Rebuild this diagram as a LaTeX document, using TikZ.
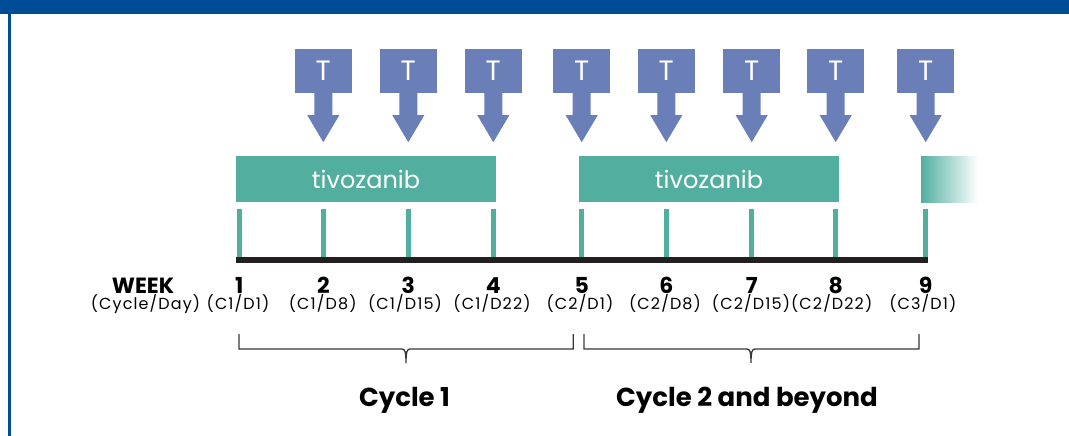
\documentclass[tikz,border=0pt]{standalone}
\usepackage{fontspec}
\setmainfont{Poppins}
\usetikzlibrary{positioning}

\definecolor{hdrblue}{HTML}{004C97}
\definecolor{doseblue}{HTML}{6A7EB8}
\definecolor{drugteal}{HTML}{52AFA0}
\definecolor{axisgray}{HTML}{231F20}

\tikzset{
	tbox/.style = {fill = doseblue, minimum width = 57pt, minimum height = 44pt, inner sep = 0pt, text = white, font = \fontsize{28}{28}\selectfont},
	drugbar/.style = {fill = drugteal, minimum width = 260pt, minimum height = 46pt, inner sep = 0pt, text = white, font = \fontsize{24}{24}\selectfont},
	weeklab/.style = {anchor = base, inner sep = 0pt, font = \bfseries\fontsize{22}{22}\selectfont},
	daylab/.style = {anchor = base, inner sep = 0pt, font = \fontsize{16}{16}\selectfont\addfontfeature{LetterSpace = 7}},
	cyclelab/.style = {anchor = base, inner sep = 0pt, font = \bfseries\fontsize{26}{26}\selectfont},
	bracket/.style = {draw = axisgray!90, line width = 1.3pt}
}

\begin{document}
\begin{tikzpicture}[x = 1pt, y = -1pt]
	\def\yBox{71};
	\def\yBar{179};
	\def\yTickTop{209};
	\def\yAxis{260};
	\def\yWeek{293};
	\def\yDay{309.5};
	\def\yBrTop{334};
	\def\yBr{349};
	\def\yDip{363};
	\def\yCycle{406};

	\useasboundingbox (0,0) rectangle (1069,436);

	\begin{scope}
		\fill [hdrblue] (0,0) rectangle (1069,14);
		\fill [hdrblue] (8,14) rectangle (10.5,436);
	\end{scope}

	\begin{scope}
		\foreach \w/\x in {1/239.3, 2/323.3, 3/408.3, 4/493.3, 5/581.7, 6/666.3, 7/751.7, 8/835.7, 9/925.7} {
			\coordinate (k\w) at (\x,\yAxis);
			\draw [drugteal, line width = 4.6pt] (\x,\yTickTop) -- (k\w);
			\node [weeklab] (w\w) at (\x,\yWeek) {\w};
		}
		\draw [axisgray, line width = 5.5pt] (236,\yAxis) -- (928.3,\yAxis);
	\end{scope}

	\begin{scope}
		\node [drugbar] (bar1) at (366,\yBar) {tivozanib};
		\node [drugbar] (bar2) at (709,\yBar) {tivozanib};
		\shade [left color = drugteal, right color = white] (921,156) rectangle (978,202);
	\end{scope}

	\begin{scope}
		\foreach \w/\x in {2/323.3, 3/408.3, 4/493.3, 5/581.7, 6/666.3, 7/751.7, 8/835.7, 9/925.7} {
			\node [tbox] (t\w) at (\x,\yBox) {T};
			\fill [doseblue] (t\w.south) ++(-9,-1) -- ++(0,23) -- ++(-7,0) -- ++(16,27) -- ++(16,-27) -- ++(-7,0) -- ++(0,-23) -- cycle;
		}
	\end{scope}

	\begin{scope}
		\node [weeklab] (week) at (143,\yWeek) {WEEK};
		\node [daylab] (cycday) at (145.5,\yDay) {(Cycle/Day)};
		\node [daylab] (d1) at (238,\yDay) {(C1/D1)};
		\node [daylab] (d2) at (322.7,\yDay) {(C1/D8)};
		\node [daylab] (d3) at (405,\yDay) {(C1/D15)};
		\node [daylab] (d4) at (492,\yDay) {(C1/D22)};
		\node [daylab] (d5) at (580,\yDay) {(C2/D1)};
		\node [daylab] (d6) at (665,\yDay) {(C2/D8)};
		\node [daylab] (d7) at (751,\yDay) {(C2/D15)};
		\node [daylab] (d8) at (831.7,\yDay) {(C2/D22)};
		\node [daylab] (d9) at (922.8,\yDay) {(C3/D1)};
	\end{scope}

	\begin{scope}[bracket]
		\draw (239,\yBrTop) -- (239,\yBr) -- (402,\yBr) .. controls (405,\yBr) and (406,\yBr + 3) .. (406,\yDip) .. controls (406,\yBr + 3) and (407,\yBr) .. (410,\yBr) -- (573.3,\yBr) -- (573.3,\yBrTop);
		\draw (584,\yBrTop) -- (584,\yBr) -- (747,\yBr) .. controls (750,\yBr) and (751,\yBr + 3) .. (751,\yDip) .. controls (751,\yBr + 3) and (752,\yBr) .. (755,\yBr) -- (919,\yBr) -- (919,\yBrTop);
		\coordinate (dip1) at (406,\yDip);
		\coordinate (dip2) at (751,\yDip);
		\node [cyclelab] (cyc1) at (404.5,\yCycle) {Cycle 1};
		\node [cyclelab] (cyc2) at (747,\yCycle) {Cycle 2 and beyond};
	\end{scope}
\end{tikzpicture}
\end{document}
